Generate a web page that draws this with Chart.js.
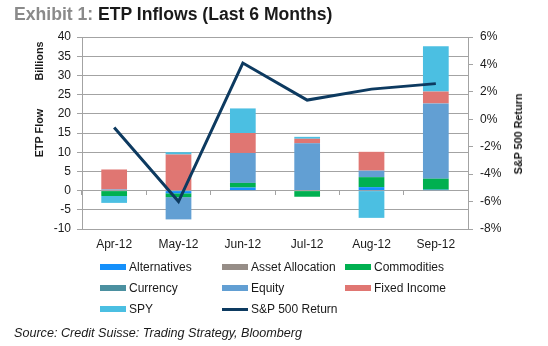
<!DOCTYPE html>
<html>
<head>
<meta charset="utf-8">
<script src="https://cdn.jsdelivr.net/npm/chart.js@4"></script>
<style>
  body { margin: 0; width: 548px; height: 346px; background: #fff; font-family: 'Liberation Sans', Arial, sans-serif; color: #1a1a1a; position: relative; overflow: hidden; }
  #wrap { position: absolute; left: 0; top: 0; width: 548px; height: 346px; }
  .title { position: absolute; left: 14px; top: 4px; font-size: 17.6px; font-weight: bold; line-height: 20px; white-space: nowrap; }
  .title span { color: #8a8a8a; }
  .rot { position: absolute; transform: translate(-50%, -50%) rotate(-90deg); font-size: 10.8px; font-weight: bold; white-space: nowrap; }
  .leg { position: absolute; font-size: 12px; line-height: 14px; white-space: nowrap; display: flex; align-items: center; }
  .leg i { display: inline-block; width: 26px; height: 6px; margin-right: 3px; }
  .src { position: absolute; left: 14px; top: 326px; font-size: 12.6px; font-style: italic; white-space: nowrap; }
</style>
</head>
<body>
<div id="wrap"><canvas id="myChart" width="548" height="346"></canvas></div>
<div class="title"><span>Exhibit 1:</span> ETP Inflows (Last 6 Months)</div>
<div class="rot" style="left:39px;top:61px">Billions</div>
<div class="rot" style="left:39px;top:133px">ETP Flow</div>
<div class="rot" style="left:518px;top:134px">S&amp;P 500 Return</div>
<div id="legend"></div>
<div class="src">Source: Credit Suisse: Trading Strategy, Bloomberg</div>
<script>
let months = ['Apr-12', 'May-12', 'Jun-12', 'Jul-12', 'Aug-12', 'Sep-12']
let alternatives = [0, -0.7, 0.8, 0, 0.9, 0.25]
let assetAllocation = [0, 0, 0, 0, 0, 0]
let commodities = [-1.4, -1.0, 1.2, -1.6, 2.6, 2.85]
let currency = [0, 0, 0, 0, 0, 0]
let equity = [0.3, -5.8, 7.8, 12.3, 1.7, 19.6]
let fixedIncome = [5.2, 9.4, 5.2, 1.2, 4.9, 3.1]
let spy = [-1.8, 0.6, 6.4, 0.5, -7.1, 11.8]
let sp500Return = [-0.6, -6.0, 4.1, 1.4, 2.2, 2.6]

let flowTicks = [40, 35, 30, 25, 20, 15, 10, 5, 0, -5, -10]
let returnTicks = [6, 4, 2, 0, -2, -4, -6, -8]

let gridColor = '#a3a3a3'
let textColor = '#1a1a1a'
let font = { family: "'Liberation Sans', Arial, sans-serif", size: 12 }

function bar(label, data, color) {
    return { type: 'bar', label: label, data: data, backgroundColor: color, order: 1,
        xAxisID: 'x', yAxisID: 'y', stack: 'flows', barPercentage: 0.4, categoryPercentage: 1 }
}

let datasets = [
    { type: 'line', label: 'S&P 500 Return', data: sp500Return, borderColor: '#0d3a60',
      backgroundColor: '#0d3a60', borderWidth: 3, pointRadius: 0, tension: 0, yAxisID: 'y1', order: 0 },
    bar('Alternatives', alternatives, '#1590fb'),
    bar('Asset Allocation', assetAllocation, '#968d87'),
    bar('Commodities', commodities, '#00b050'),
    bar('Currency', currency, '#4b90a0'),
    bar('Equity', equity, '#629fd3'),
    bar('Fixed Income', fixedIncome, '#e07672'),
    bar('SPY', spy, '#4bbfe2')
]

let config = {
    data: { labels: months, datasets: datasets },
    options: {
        responsive: false,
        animation: false,
        layout: { padding: { left: 0, right: 0, top: 37, bottom: 95 } },
        plugins: { legend: { display: false }, tooltip: { enabled: false } },
        scales: {
            x: {
                type: 'category', offset: true, stacked: true,
                grid: { display: false, drawTicks: false },
                border: { display: false },
                ticks: { color: textColor, font: font, padding: 8, maxRotation: 0 },
                afterFit: s => { s.height = 22 }
            },
            x2: {
                type: 'category', position: { y: 0 }, offset: true,
                grid: { offset: true, drawOnChartArea: false, color: gridColor, tickLength: 4 },
                border: { color: gridColor },
                ticks: { display: false }
            },
            y: {
                position: 'left', stacked: true, min: -10, max: 40,
                afterBuildTicks: s => { s.ticks = flowTicks.map(v => ({ value: v })) },
                grid: { color: gridColor, tickLength: 5 },
                border: { color: gridColor },
                ticks: { color: textColor, font: font, padding: 6 },
                afterFit: s => { s.width = 82 }
            },
            y1: {
                position: 'right', min: -8, max: 6,
                afterBuildTicks: s => { s.ticks = returnTicks.map(v => ({ value: v })) },
                grid: { drawOnChartArea: false, color: gridColor, tickLength: 5 },
                border: { color: gridColor },
                ticks: { color: textColor, font: font, padding: 7, callback: v => v + '%' },
                afterFit: s => { s.width = 80 }
            }
        }
    }
}

let myChart = new Chart(document.getElementById('myChart'), config)

// legend, 3 columns like the original
let legendItems = [
    ['Alternatives', '#1590fb', 0, 0], ['Asset Allocation', '#968d87', 1, 0], ['Commodities', '#00b050', 2, 0],
    ['Currency', '#4b90a0', 0, 1], ['Equity', '#629fd3', 1, 1], ['Fixed Income', '#e07672', 2, 1],
    ['SPY', '#4bbfe2', 0, 2], ['S&P 500 Return', '#0d3a60', 1, 2]
]
let colX = [100, 222, 345]
let rowY = [267, 288, 309]
let legend = document.getElementById('legend')
legendItems.forEach(it => {
    let d = document.createElement('div')
    d.className = 'leg'
    d.style.left = colX[it[2]] + 'px'
    d.style.top = (rowY[it[3]] - 7) + 'px'
    let sw = document.createElement('i')
    sw.style.background = it[1]
    if (it[0] == 'S&P 500 Return') sw.style.height = '3px'
    d.appendChild(sw)
    d.appendChild(document.createTextNode(it[0]))
    legend.appendChild(d)
})
</script>
</body>
</html>
